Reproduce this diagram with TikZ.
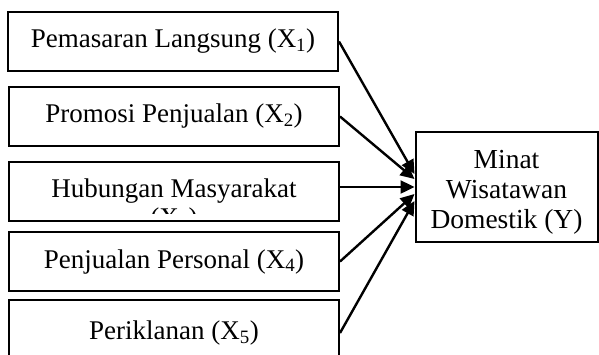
\documentclass[tikz,border=0pt]{standalone}
\usepackage{fontspec}
\setmainfont{Liberation Serif}
\usetikzlibrary{arrows.meta}
\begin{document}
\begin{tikzpicture}[x=1pt,y=1pt,
  box/.style={draw=black,line width=2pt,minimum width=330pt,minimum height=59pt,inner sep=0pt,
    font=\fontsize{27}{30}\selectfont,anchor=center},
  ybox/.style={draw=black,line width=2pt,minimum width=182pt,minimum height=110pt,inner sep=0pt},
  ytext/.style={align=center,inner sep=0pt,font=\fontsize{27.5}{30}\selectfont},
  arr/.style={line width=2.4pt,-{Triangle[length=14pt,width=13pt]}}]
\useasboundingbox (0,0) rectangle (599,-354);
\clip (0,0) rectangle (599,-354);
\node[box] (b1) at (173,-41.5) {Pemasaran Langsung (X\textsubscript{1})};
\node[box] (b2) at (174,-116.5) {Promosi Penjualan (X\textsubscript{2})};
\node[box] (b3) at (174,-191.5) {Hubungan Masyarakat};
\begin{scope}
  \clip (12,-162) rectangle (335,-213);
  \node[font=\fontsize{27}{30}\selectfont,anchor=base,inner sep=0pt] (b3x) at (174,-226) {(X\textsubscript{3})};
\end{scope}
\node[box] (b4) at (174,-261.5) {Penjualan Personal (X\textsubscript{4})};
\node[box,minimum height=66pt] (b5) at (174,-333) {Periklanan (X\textsubscript{5})};
\node[ybox] (y) at (506.5,-187) {};
\node[ytext] (yt) at (506.5,-192) {Minat\\Wisatawan\\Domestik (Y)};
\draw[arr] (b1.east) -- ([yshift=13pt]y.west);
\draw[arr] (b2.east) -- ([yshift=8pt]y.west);
\draw[arr] (b3.east |- y.west) -- (y.west);
\draw[arr] (b4.east) -- ([yshift=-7pt]y.west);
\draw[arr] (b5.east) -- ([yshift=-14pt]y.west);
\end{tikzpicture}
\end{document}
